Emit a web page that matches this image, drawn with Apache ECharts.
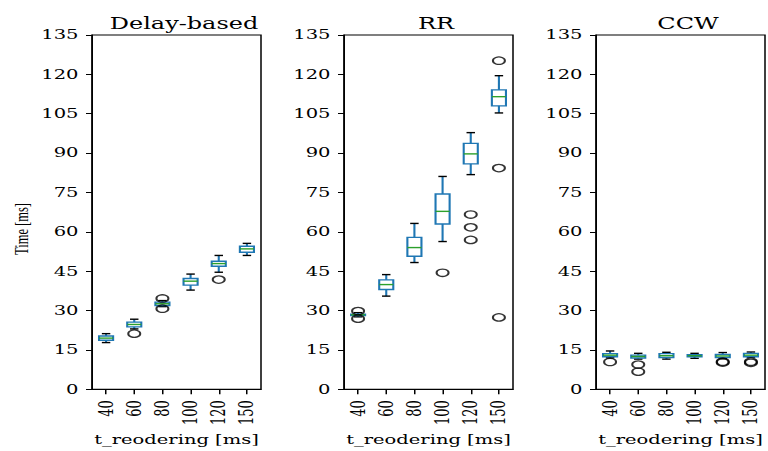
<!DOCTYPE html>
<html>
<head>
<meta charset="utf-8">
<script src="https://cdn.jsdelivr.net/npm/echarts@6/dist/echarts.min.js"></script>
<style>
  html, body { margin: 0; padding: 0; background: #fff; overflow: hidden; }
  #wrap { width: 768px; height: 451px; overflow: hidden; }
  /* the figure is drawn narrow and widened horizontally */
  #chart { width: 512px; height: 451px; transform: scaleX(1.5); transform-origin: 0 0; }
</style>
</head>
<body>
<div id="wrap"><div id="chart"></div></div>
<script>
// categories shared by all panels (t_reodering in ms)
const categories = ['40', '60', '80', '100', '120', '150'];
const panelTitles = ['Delay-based', 'RR', 'CCW'];
const yTicks = [0, 15, 30, 45, 60, 75, 90, 105, 120, 135];

// box statistics per category: [lower whisker, Q1, median, Q3, upper whisker]
const delayStats = [
  [17.8, 18.7, 19.5, 20.3, 21.2],
  [23.0, 23.8, 24.7, 25.6, 26.7],
  [31.5, 31.9, 32.6, 33.2, 33.8],
  [37.8, 39.7, 41.2, 42.2, 43.9],
  [44.6, 46.9, 47.9, 48.8, 51.0],
  [51.0, 52.2, 53.5, 54.5, 55.6]
];
const rrStats = [
  [27.6, 28.1, 28.4, 28.6, 29.2],
  [35.5, 38.0, 39.9, 41.7, 43.7],
  [48.3, 50.7, 54.0, 57.9, 63.2],
  [56.3, 63.0, 67.8, 74.4, 81.1],
  [81.8, 85.9, 89.7, 93.7, 97.8],
  [105.3, 108.0, 111.5, 114.1, 119.5]
];
const ccwStats = [
  [12.0, 12.4, 13.0, 13.6, 14.6],
  [11.5, 11.9, 12.5, 13.0, 13.7],
  [11.5, 12.1, 12.8, 13.6, 14.1],
  [11.8, 12.4, 12.8, 13.2, 13.7],
  [11.7, 12.1, 12.7, 13.3, 14.0],
  [12.2, 12.4, 13.0, 13.7, 14.2]
];

// fliers: [category index, value]
const delayOutliers = [[1, 21.2], [2, 34.6], [2, 30.7], [4, 41.8]];
const rrOutliers = [[0, 29.8], [0, 26.9], [3, 44.4], [4, 66.6], [4, 61.7], [4, 56.9],
                    [5, 125.2], [5, 84.3], [5, 27.4]];
const ccwOutliers = [[0, 10.4], [1, 9.4], [1, 6.7], [4, 10.5], [4, 10.2], [5, 10.5], [5, 10.1]];

const panels = [
  { stats: delayStats, outliers: delayOutliers },
  { stats: rrStats, outliers: rrOutliers },
  { stats: ccwStats, outliers: ccwOutliers }
];

const FONT = 'DejaVu Serif';
const BLUE = '#1f77b4', GREEN = '#2ca02c', BLACK = '#000';
// layout (in unscaled chart units; the page widens x by 1.5)
const gridLefts = [61.33, 229.33, 397.33];
const gridWidth = 112.67;
const gridTop = 35, gridHeight = 355;

function renderBox(params, api) {
  const idx = api.value(0);
  const lo = api.coord([idx, api.value(1)]);
  const q1 = api.coord([idx, api.value(2)]);
  const med = api.coord([idx, api.value(3)]);
  const q3 = api.coord([idx, api.value(4)]);
  const hi = api.coord([idx, api.value(5)]);
  const band = api.size([1, 0])[0];
  const x = lo[0];
  const bw = band * 0.5, cw = band * 0.3;
  const line = (x1, y1, x2, y2, color, w) => ({
    type: 'line', shape: { x1, y1, x2, y2 },
    style: { stroke: color, lineWidth: w, fill: null }
  });
  return {
    type: 'group',
    children: [
      line(x, q1[1], x, lo[1], BLUE, 1.4),
      line(x, q3[1], x, hi[1], BLUE, 1.4),
      line(x - cw / 2, lo[1], x + cw / 2, lo[1], BLACK, 1.4),
      line(x - cw / 2, hi[1], x + cw / 2, hi[1], BLACK, 1.4),
      { type: 'rect',
        shape: { x: x - bw / 2, y: q3[1], width: bw, height: q1[1] - q3[1] },
        style: { stroke: BLUE, lineWidth: 1.4, fill: null } },
      line(x - bw / 2, med[1], x + bw / 2, med[1], GREEN, 1.4)
    ]
  };
}

const grids = [], xAxes = [], yAxes = [], series = [], titles = [];
panels.forEach((p, i) => {
  grids.push({ left: gridLefts[i], top: gridTop, width: gridWidth, height: gridHeight,
               show: true, borderColor: BLACK, borderWidth: 1, backgroundColor: 'transparent' });
  titles.push({ text: panelTitles[i], left: gridLefts[i] + gridWidth / 2, top: 11, textAlign: 'center',
                textStyle: { fontFamily: FONT, fontWeight: 'normal', fontSize: 16, color: BLACK } });
  xAxes.push({
    gridIndex: i, type: 'category', data: categories, boundaryGap: true,
    name: 't_reodering [ms]', nameLocation: 'middle', nameGap: 43,
    nameTextStyle: { fontFamily: FONT, fontSize: 13, color: BLACK },
    axisLine: { show: true, lineStyle: { color: BLACK, width: 1 } },
    axisTick: { show: true, alignWithLabel: true, length: 5, lineStyle: { color: BLACK } },
    axisLabel: { rotate: 90, margin: 11, fontFamily: FONT, fontSize: 13, color: BLACK },
    splitLine: { show: false }
  });
  yAxes.push({
    gridIndex: i, type: 'value', min: 0, max: 135, interval: 15,
    axisLine: { show: true, lineStyle: { color: BLACK, width: 1 } },
    axisTick: { show: true, length: 4, lineStyle: { color: BLACK } },
    axisLabel: { margin: 9, fontFamily: FONT, fontSize: 13, color: BLACK,
                 formatter: v => (yTicks.indexOf(v) >= 0 ? String(v) : '') },
    splitLine: { show: false }
  });
  series.push({
    type: 'custom', xAxisIndex: i, yAxisIndex: i,
    renderItem: renderBox,
    encode: { x: 0, y: [1, 2, 3, 4, 5] },
    data: p.stats.map((s, k) => [k].concat(s)),
    z: 3
  });
  series.push({
    type: 'scatter', xAxisIndex: i, yAxisIndex: i,
    symbol: 'circle', symbolSize: [8, 7.4],
    itemStyle: { color: 'rgba(0,0,0,0)', borderColor: BLACK, borderWidth: 1.3 },
    data: p.outliers, z: 4
  });
});

const chart = echarts.init(document.getElementById('chart'), null, { renderer: 'svg' });
chart.setOption({
  animation: false,
  backgroundColor: '#fff',
  title: titles,
  grid: grids,
  xAxis: xAxes,
  yAxis: yAxes,
  series: series,
  graphic: [{
    type: 'text', left: 8, top: 203,
    rotation: Math.PI / 2,
    style: { text: 'Time [ms]', fontFamily: 'Liberation Serif', fontSize: 12.5, fill: BLACK }
  }]
});
</script>
</body>
</html>
